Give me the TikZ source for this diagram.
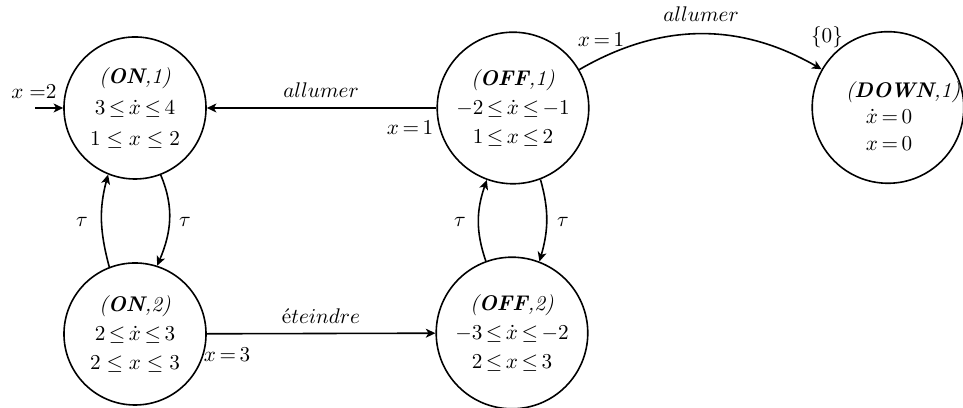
\documentclass[tikz,border=0pt]{standalone}
\usetikzlibrary{arrows.meta}
\newcommand{\tightrel}{\thickmuskip=3mu plus 1mu}
\begin{document}
\begin{tikzpicture}[x=0.4717pt,y=0.4717pt,
  statebox/.style={circle,draw,line width=0.75pt,inner sep=0pt,align=center},
  onstate/.style={statebox,minimum size=67pt},
  offstate/.style={statebox,minimum size=71.5pt},
  stext/.style={align=center,inner sep=0pt},
  lbl/.style={inner sep=0pt},
  edge/.style={line width=0.75pt,-{Stealth[length=4.5pt,width=4.2pt,inset=1.2pt]}}]
\useasboundingbox (0,0) rectangle (963,408);
% states
\node[onstate] (on1) at (135,300) {\textit{(\textbf{ON},1)}\\[2.5pt] $\tightrel 3\leq\dot{x}\leq 4$\\[2.5pt] $1\leq x\leq 2$};
\node[onstate] (on2) at (135,74) {\textit{(\textbf{ON},2)}\\[1.5pt] $\tightrel 2\leq\dot{x}\leq 3$\\[1.5pt] $2\leq x\leq 3$};
\node[offstate] (off1) at (513,300) {\textit{(\textbf{OFF},1)}\\[1.5pt] $\tightrel -2\leq\dot{x}\leq -1$\\[1.5pt] $\tightrel 1\leq x\leq 2$};
\node[offstate] (off2) at (512,75) {\textit{(\textbf{OFF},2)}\\[1.5pt] $\tightrel -3\leq\dot{x}\leq -2$\\[1.5pt] $\tightrel 2\leq x\leq 3$};
\node[offstate] (down) at (888,300.5) {};
\node[stext] (downtitle) at (903,316) {\textit{(\textbf{DOWN},1)}};
\node[stext] (downinv) at (889,278) {$\tightrel \dot{x}=0$\\[0.5pt] $\tightrel x=0$};
% initial arrow
\coordinate (init) at (35,300);
\draw[edge] (init) -- (on1);
\node[lbl] (linit) at (34,316) {$x\;{=}2$};
% transitions
\draw[edge] (off1) -- (on1);
\node[lbl] (lall1) at (321,318) {$allumer$};
\node[lbl] (lx1a) at (410,280) {$x\,{=}\,1$};
\draw[edge] (off1) to[bend left=30] (down);
\node[lbl] (lall2) at (701,394) {$allumer$};
\node[lbl] (lx1b) at (601,368) {$x\,{=}\,1$};
\node[lbl] (lreset) at (827,371) {$\{0\}$};
\draw[edge] (on2) -- (off2);
\node[lbl] (leteint) at (321,92) {\'e$teindre$};
\node[lbl] (lx3) at (227,53) {$x\,{=}\,3$};
% tau transitions
\draw[edge] (on2.111) to[out=105,in=-105] (on1.248);
\draw[edge] (on1.291) to[out=-67,in=67] (on2.72);
\draw[edge] (off2.110) to[out=109,in=-109] (off1.250);
\draw[edge] (off1.-69) to[out=-74,in=74] (off2.69);
\node[lbl] (tau1) at (82,186) {$\tau$};
\node[lbl] (tau2) at (185,186) {$\tau$};
\node[lbl] (tau3) at (460,186) {$\tau$};
\node[lbl] (tau4) at (563,186) {$\tau$};
\end{tikzpicture}
\end{document}
